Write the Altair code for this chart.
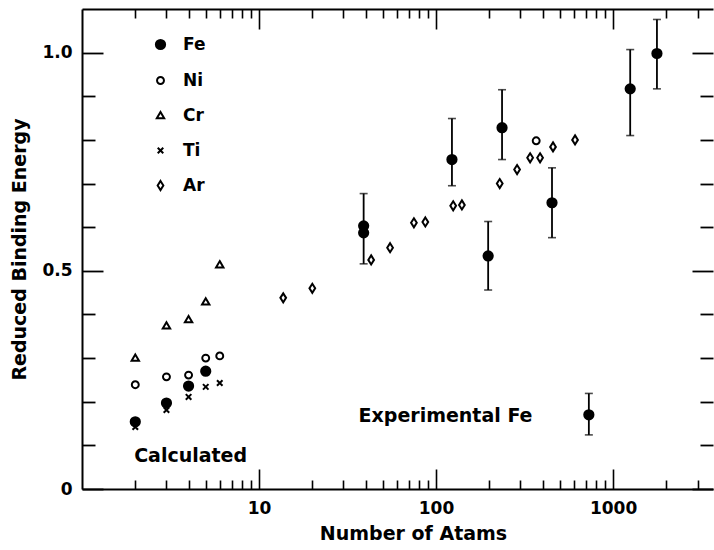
import altair as alt
import pandas as pd

# ---------------- data ----------------
series_order = ["Fe", "Ni", "Cr", "Ti", "Ar"]

calc_n = [2, 3, 4, 5, 6]
fe_calc_n = [2, 3, 4, 5]
fe_calc = [0.154, 0.197, 0.236, 0.270]
ni_calc = [0.239, 0.257, 0.261, 0.300, 0.305]
cr_calc = [0.300, 0.374, 0.388, 0.429, 0.514]
ti_calc = [0.142, 0.181, 0.211, 0.234, 0.243]

ar_n = [13.7, 20, 43, 55, 75, 87, 125, 140, 229, 287, 340, 387, 458, 610]
ar_e = [0.438, 0.460, 0.525, 0.553, 0.610, 0.612, 0.649, 0.651, 0.700, 0.732,
        0.759, 0.759, 0.784, 0.800]

ni_extra_n = [368]
ni_extra_e = [0.798]

exp_fe_n = [39, 39, 123, 197, 236, 452, 1250, 1770, 730]
exp_fe_e = [0.603, 0.587, 0.755, 0.534, 0.828, 0.656, 0.917, 0.998, 0.170]

bar_n = [39, 123, 197, 236, 452, 1250, 1770, 730]
bar_lo = [0.516, 0.695, 0.456, 0.755, 0.576, 0.810, 0.917, 0.124]
bar_hi = [0.677, 0.849, 0.613, 0.915, 0.736, 1.007, 1.076, 0.219]

annot_text = ["Calculated", "Experimental Fe"]
annot_n = [1.97, 36.5]
annot_e = [0.076, 0.168]

y_label_values = [0, 0.5, 1.0]
y_tick_values = [0, 0.1, 0.2, 0.3, 0.4, 0.5, 0.6, 0.7, 0.8, 0.9, 1.0]
x_label_values = [10, 100, 1000]
x_tick_values = [2, 3, 4, 5, 6, 7, 8, 9, 10,
                 20, 30, 40, 50, 60, 70, 80, 90, 100,
                 200, 300, 400, 500, 600, 700, 800, 900, 1000,
                 2000, 3000]

# ---------------- tables ----------------
rows = []
for n, e in zip(fe_calc_n, fe_calc):
    rows.append({"n": n, "e": e, "series": "Fe"})
for n, e in zip(calc_n, ni_calc):
    rows.append({"n": n, "e": e, "series": "Ni"})
for n, e in zip(calc_n, cr_calc):
    rows.append({"n": n, "e": e, "series": "Cr"})
for n, e in zip(calc_n, ti_calc):
    rows.append({"n": n, "e": e, "series": "Ti"})
for n, e in zip(ar_n, ar_e):
    rows.append({"n": n, "e": e, "series": "Ar"})
for n, e in zip(ni_extra_n, ni_extra_e):
    rows.append({"n": n, "e": e, "series": "Ni"})
for n, e in zip(exp_fe_n, exp_fe_e):
    rows.append({"n": n, "e": e, "series": "Fe"})
pts_df = pd.DataFrame(rows)

bar_df = pd.DataFrame({"n": bar_n, "lo": bar_lo, "hi": bar_hi})
txt_df = pd.DataFrame({"n": annot_n, "e": annot_e, "label": annot_text})

FONT = "DejaVu Sans"
PW, PH = 631, 480

xs = alt.Scale(type="log", domain=[1, 3670], nice=False)
ys = alt.Scale(domain=[0, 1.1], nice=False, zero=False)

shape_range = [
    "circle",
    "M-0.75,0A0.75,0.75,0,1,0,0.75,0A0.75,0.75,0,1,0,-0.75,0Z",
    "M0,-0.78L0.8,0.58L-0.8,0.58Z",
    "M-0.6,-0.6L0.6,0.6M-0.6,0.6L0.6,-0.6",
    "M0,-0.98L0.62,0L0,0.98L-0.62,0Z",
]
fill_range = ["black", "white", "white", "black", "white"]
stroke_range = ["black", "black", "black", "black", "black"]

leg = alt.Legend(
    orient="none", legendX=70, legendY=27, title=None,
    labelFont=FONT, labelFontSize=17, labelFontWeight="bold", labelColor="black",
    labelOffset=14, rowPadding=17, symbolSize=85,
    symbolStrokeColor="black", symbolStrokeWidth=2, padding=0,
)

x_main_axis = alt.Axis(
    orient="bottom", values=x_label_values, format="d", ticks=False, tickSize=0,
    grid=False, domain=True, domainColor="black", domainWidth=2,
    labelFont=FONT, labelFontSize=17, labelFontWeight="bold", labelColor="black",
    labelPadding=11,
    title="Number of Atams", titleFont=FONT, titleFontSize=19, titleFontWeight="bold",
    titleColor="black", titlePadding=8, titleX=331, titleAlign="center",
)
y_main_axis = alt.Axis(
    orient="left", values=y_label_values,
    labelExpr="datum.value == 0 ? '0' : format(datum.value, '.1f')",
    ticks=False, tickSize=0, grid=False, domain=True, domainColor="black", domainWidth=2,
    labelFont=FONT, labelFontSize=17, labelFontWeight="bold", labelColor="black",
    labelPadding=10,
    title="Reduced Binding Energy", titleFont=FONT, titleFontSize=19,
    titleFontWeight="bold", titleColor="black", titlePadding=12,
)

y_major = "abs(datum.value * 2 - round(datum.value * 2)) < 0.001"
x_major = "datum.value == 10 || datum.value == 100 || datum.value == 1000"

def y_tick_axis(orient):
    return alt.Axis(
        orient=orient, offset=-PW, values=y_tick_values, labels=False, domain=False,
        grid=False, title=None, tickColor="black", tickWidth=1.8,
        tickSize={"condition": {"test": y_major, "value": 21}, "value": 13},
    )

def x_tick_axis(orient, domain):
    return alt.Axis(
        orient=orient, offset=-PH, values=x_tick_values, labels=False, domain=domain,
        domainColor="black", domainWidth=2,
        grid=False, title=None, tickColor="black", tickWidth=1.6,
        tickSize={"condition": {"test": x_major, "value": 20}, "value": 9},
    )

points = alt.Chart(pts_df).mark_point(
    filled=True, strokeWidth=2, opacity=1, size=85
).encode(
    x=alt.X("n:Q", scale=xs, axis=x_main_axis),
    y=alt.Y("e:Q", scale=ys, axis=y_main_axis),
    shape=alt.Shape("series:N", scale=alt.Scale(domain=series_order, range=shape_range), legend=leg),
    fill=alt.Fill("series:N", scale=alt.Scale(domain=series_order, range=fill_range), legend=leg),
    stroke=alt.Stroke("series:N", scale=alt.Scale(domain=series_order, range=stroke_range), legend=leg),
)

rules = alt.Chart(bar_df).mark_rule(color="black", strokeWidth=1.8).encode(
    x=alt.X("n:Q", scale=xs, axis=x_tick_axis("top", False)),
    y=alt.Y("lo:Q", scale=ys, axis=y_tick_axis("right")),
    y2="hi:Q",
)

caps = alt.Chart(bar_df).transform_fold(["lo", "hi"], as_=["end", "val"]).mark_tick(
    orient="horizontal", color="black", size=8, thickness=1.6
).encode(
    x=alt.X("n:Q", scale=xs, axis=x_tick_axis("bottom", True)),
    y=alt.Y("val:Q", scale=ys, axis=y_tick_axis("left")),
)

texts = alt.Chart(txt_df).mark_text(
    align="left", baseline="middle", font=FONT, fontSize=19, fontWeight="bold",
    color="black"
).encode(
    x=alt.X("n:Q", scale=xs, axis=None),
    y=alt.Y("e:Q", scale=ys, axis=None),
    text="label:N",
)

chart = alt.layer(rules, caps, points, texts).resolve_axis(
    x="independent", y="independent"
).properties(
    width=PW, height=PH,
    autosize=alt.AutoSizeParams(type="none"),
    padding={"left": 82, "top": 9, "right": 1, "bottom": 61},
    background="white",
).configure_view(strokeWidth=0)

chart.save("out.html", embed_options={"renderer": "svg", "actions": False})
